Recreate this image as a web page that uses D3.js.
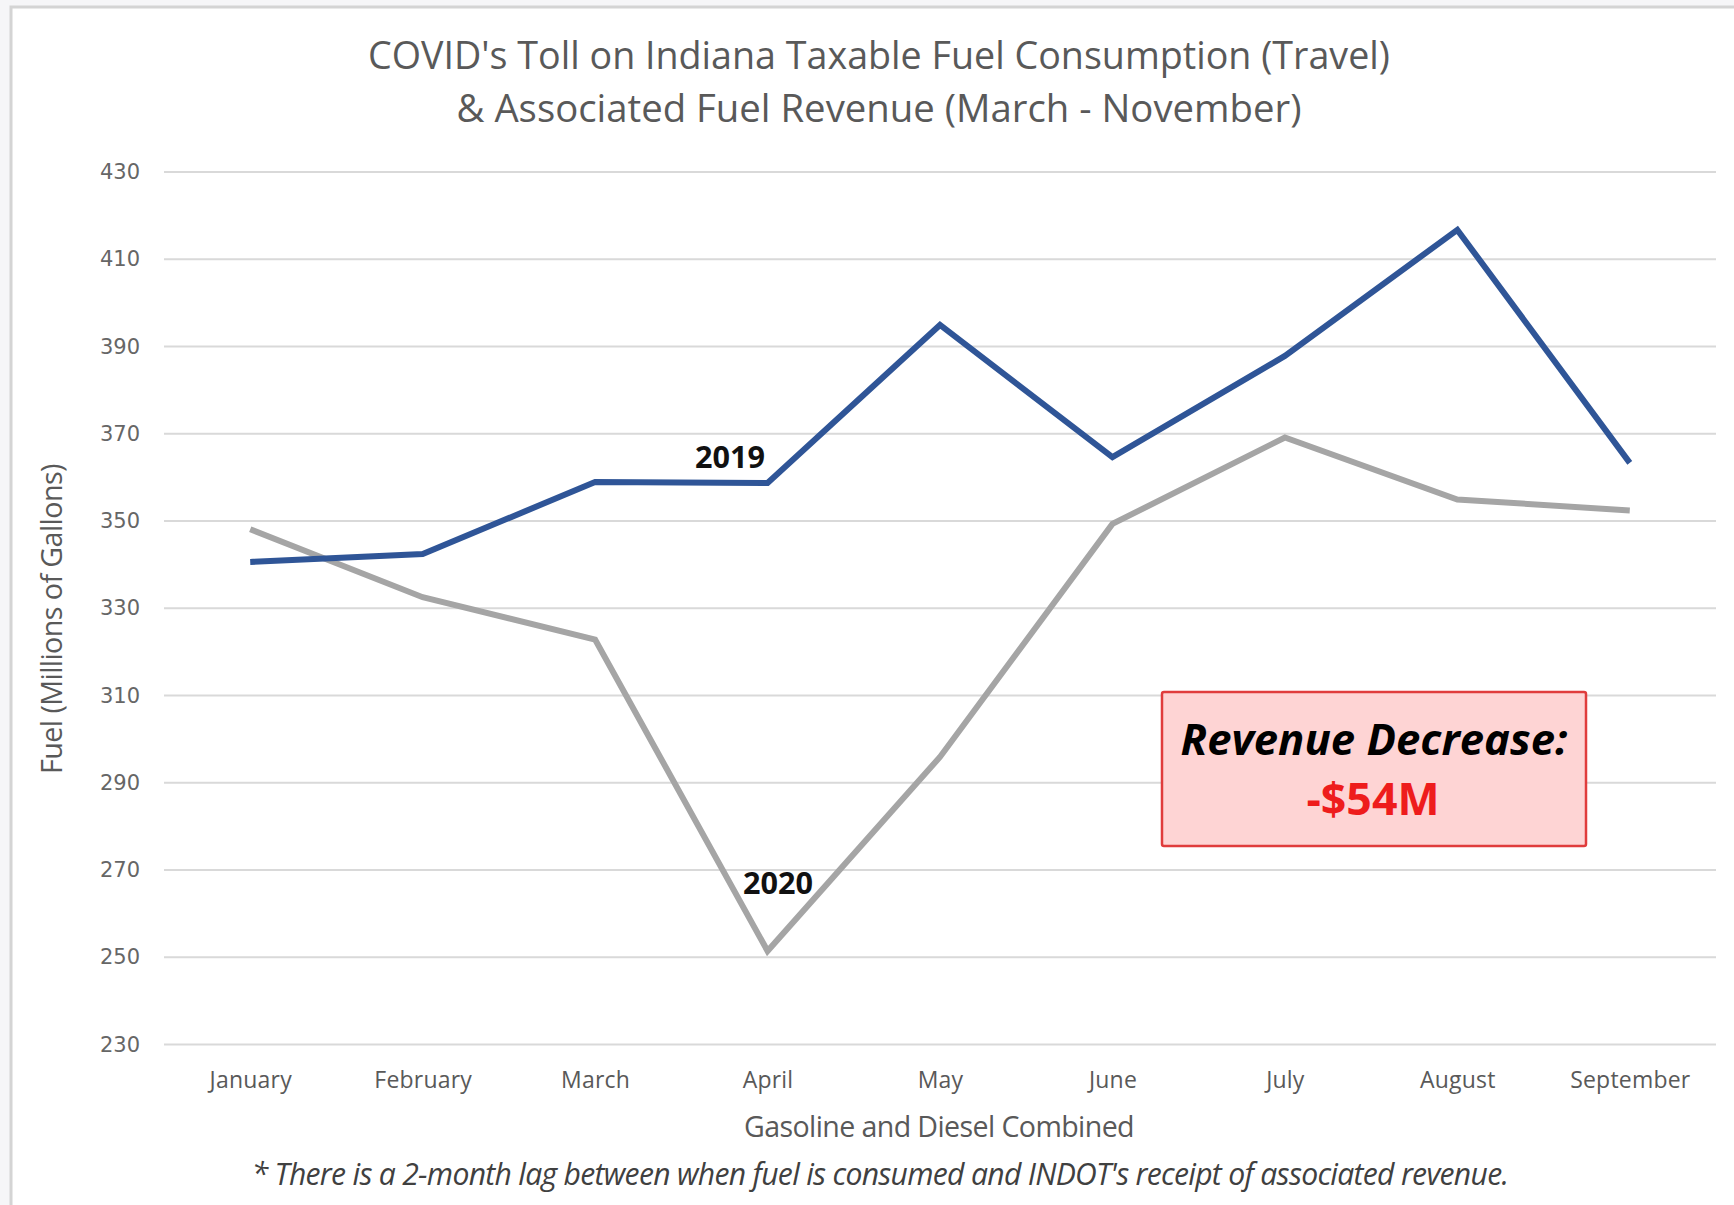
<!DOCTYPE html>
<html>
<head>
<meta charset="utf-8">
<script src="https://cdn.jsdelivr.net/npm/d3@7"></script>
<style>
  html, body { margin: 0; padding: 0; background: #f6f6f8; }
  svg { display: block; }
</style>
</head>
<body>
<svg id="chart" width="1734" height="1205"></svg>
<script>
// ---- data ----
const months = ["January", "February", "March", "April", "May", "June", "July", "August", "September"];
const fuel2019 = [340.5, 342.3, 358.8, 358.6, 394.8, 364.5, 387.7, 416.6, 363.2];
const fuel2020 = [348.0, 332.4, 322.7, 251.3, 295.8, 349.2, 369.0, 354.8, 352.3];
const yTicks = [230, 250, 270, 290, 310, 330, 350, 370, 390, 410, 430];
const titleLines = ["COVID's Toll on Indiana Taxable Fuel Consumption (Travel)", "& Associated Fuel Revenue (March - November)"];
const yAxisTitle = "Fuel (Millions of Gallons)";
const xAxisTitle = "Gasoline and Diesel Combined";
const footnote = "* There is a 2-month lag between when fuel is consumed and INDOT's receipt of associated revenue.";
const boxLines = ["Revenue Decrease:", "-$54M"];
const seriesLabels = ["2019", "2020"];

// ---- layout ----
const svg = d3.select("#chart");
const W = 1734, H = 1205;
const plot = { left: 164, right: 1716, top: 171.4, bottom: 1044 };

function fit(sel, target) {
  const node = sel.node();
  const fs = parseFloat(sel.attr("font-size"));
  const w = node.getComputedTextLength();
  if (w > 0) sel.attr("font-size", (fs * target / w).toFixed(2));
  return sel;
}

// frame
svg.append("rect").attr("x", 0).attr("y", 0).attr("width", W).attr("height", H).attr("fill", "#f6f6f8");
svg.append("rect").attr("x", 11).attr("y", 7).attr("width", W).attr("height", H)
  .attr("fill", "#ffffff").attr("stroke", "#d4d4d4").attr("stroke-width", 3);

const x = d3.scalePoint().domain(months).range([plot.left, plot.right]).padding(0.5);
const y = d3.scaleLinear().domain([230, 430]).range([plot.bottom, plot.top]);

// gridlines via axis
const yAxis = d3.axisLeft(y).tickValues(yTicks).tickSize(-(plot.right - plot.left)).tickPadding(24);
const gy = svg.append("g").attr("transform", `translate(${plot.left},0)`).call(yAxis);
gy.select(".domain").remove();
gy.selectAll(".tick line").attr("stroke", "#d9d9d9").attr("stroke-width", 2);
gy.selectAll(".tick text").attr("fill", "#666666").attr("font-family", "DejaVu Sans, Verdana, sans-serif")
  .attr("font-size", 21).attr("dy", "0.34em");

const xAxis = d3.axisBottom(x).tickSize(0).tickPadding(28);
const gx = svg.append("g").attr("transform", `translate(0,${plot.bottom})`).call(xAxis);
gx.select(".domain").remove();
gx.selectAll(".tick text").attr("fill", "#595959").attr("font-family", "Open Sans, sans-serif")
  .attr("font-size", 23).attr("letter-spacing", 0.2);

// lines
const line = d3.line().x((d, i) => x(months[i])).y(d => y(d));
svg.append("path").datum(fuel2020).attr("d", line).attr("fill", "none")
  .attr("stroke", "#a5a5a5").attr("stroke-width", 6).attr("stroke-linejoin", "miter");
svg.append("path").datum(fuel2019).attr("d", line).attr("fill", "none")
  .attr("stroke", "#2f5597").attr("stroke-width", 6).attr("stroke-linejoin", "miter");

// series labels
const l1 = svg.append("text").attr("x", 730).attr("y", 468).attr("text-anchor", "middle")
  .attr("font-family", "Open Sans, sans-serif").attr("font-weight", "bold").attr("font-size", 28)
  .attr("fill", "#111").text(seriesLabels[0]);
fit(l1, 70);
const l2 = svg.append("text").attr("x", 778).attr("y", 894).attr("text-anchor", "middle")
  .attr("font-family", "Open Sans, sans-serif").attr("font-weight", "bold").attr("font-size", 28)
  .attr("fill", "#111").text(seriesLabels[1]);
fit(l2, 70);

// title
const t1 = svg.append("text").attr("x", 879).attr("y", 69).attr("text-anchor", "middle")
  .attr("font-family", "Open Sans, sans-serif").attr("font-size", 33).attr("fill", "#595959").text(titleLines[0]);
fit(t1, 1022);
const t2 = svg.append("text").attr("x", 879).attr("y", 122).attr("text-anchor", "middle")
  .attr("font-family", "Open Sans, sans-serif").attr("font-size", 33).attr("fill", "#595959").text(titleLines[1]);
fit(t2, 845);

// axis titles
const yt = svg.append("text").attr("transform", "translate(62,619) rotate(-90)").attr("text-anchor", "middle")
  .attr("font-family", "Open Sans, sans-serif").attr("font-size", 22).attr("fill", "#595959").attr("letter-spacing", -0.6)
  .text(yAxisTitle);
fit(yt, 305);
const xt = svg.append("text").attr("x", 939).attr("y", 1137).attr("text-anchor", "middle")
  .attr("font-family", "Open Sans, sans-serif").attr("font-size", 22).attr("fill", "#595959").attr("letter-spacing", -0.6)
  .text(xAxisTitle);
fit(xt, 385);
const fn = svg.append("text").attr("x", 880).attr("y", 1185).attr("text-anchor", "middle")
  .attr("font-family", "Open Sans, sans-serif").attr("font-style", "italic").attr("font-size", 22)
  .attr("fill", "#404040").attr("letter-spacing", -0.7).text(footnote);
fit(fn, 1232);

// revenue box
svg.append("rect").attr("x", 1162).attr("y", 692).attr("width", 424).attr("height", 154)
  .attr("fill", "#fed4d4").attr("stroke", "#e03c3c").attr("stroke-width", 2.5).attr("rx", 2);
const b1 = svg.append("text").attr("x", 1374).attr("y", 755).attr("text-anchor", "middle")
  .attr("font-family", "Open Sans, sans-serif").attr("font-weight", "bold").attr("font-style", "italic")
  .attr("font-size", 38).attr("fill", "#000").text(boxLines[0]);
fit(b1, 387);
const b2 = svg.append("text").attr("x", 1373).attr("y", 815).attr("text-anchor", "middle")
  .attr("font-family", "Open Sans, sans-serif").attr("font-weight", "bold")
  .attr("font-size", 40).attr("fill", "#ee1c1c").text(boxLines[1]);
fit(b2, 133);
</script>
</body>
</html>
